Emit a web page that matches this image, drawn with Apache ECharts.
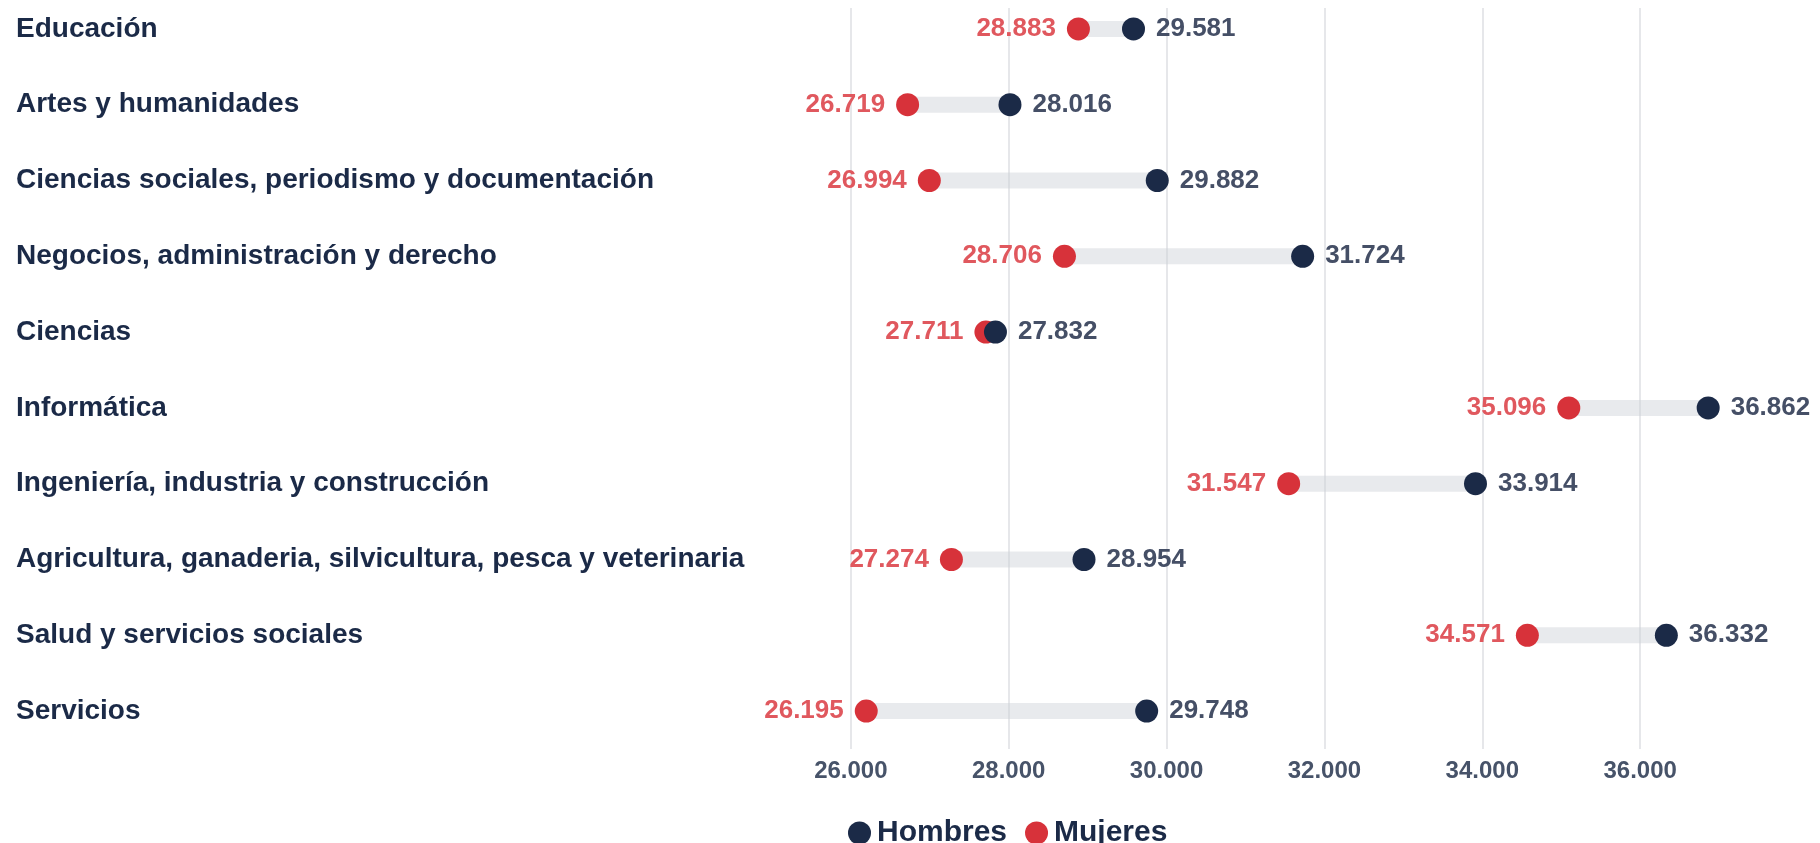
<!DOCTYPE html>
<html lang="es">
<head>
<meta charset="UTF-8">
<title>Salarios por rama</title>
<script src="https://cdn.jsdelivr.net/npm/echarts@6.0.0/dist/echarts.min.js"></script>
<style>
  html, body { margin: 0; padding: 0; background: #fff; overflow: hidden; }
  /* canvas is a bit taller than the page so the first row can sit close to the top edge */
  #main { width: 1820px; height: 863px; margin-top: -20px; }
</style>
</head>
<body>
<div id="main"></div>
<script>
// data
const categories = [
  'Educación',
  'Artes y humanidades',
  'Ciencias sociales, periodismo y documentación',
  'Negocios, administración y derecho',
  'Ciencias',
  'Informática',
  'Ingeniería, industria y construcción',
  'Agricultura, ganaderia, silvicultura, pesca y veterinaria',
  'Salud y servicios sociales',
  'Servicios'
];
const hombres = [29581, 28016, 29882, 31724, 27832, 36862, 33914, 28954, 36332, 29748];
const mujeres = [28883, 26719, 26994, 28706, 27711, 35096, 31547, 27274, 34571, 26195];
const xTicks = [26000, 28000, 30000, 32000, 34000, 36000];

const NAVY = '#1b2a47';
const RED = '#d7323a';
const FONT = '"Liberation Sans", Arial, Helvetica, sans-serif';

function fmt(v) {
  return String(v).replace(/\B(?=(\d{3})+(?!\d))/g, '.');
}

// connector bar per row: [row, low, high]
const ranges = categories.map((c, i) => [i, Math.min(hombres[i], mujeres[i]), Math.max(hombres[i], mujeres[i])]);

var myChart = echarts.init(document.getElementById('main'));

var option = {
  animation: false,
  textStyle: { fontFamily: FONT },
  grid: [
    { left: 693, right: 22, top: 11, bottom: 94 },   // marks
    { left: 693, right: 22, top: 28, bottom: 94 }    // gridlines + x labels
  ],
  legend: {
    data: ['Hombres', 'Mujeres'],
    left: 843,
    top: 833,
    icon: 'circle',
    itemWidth: 23,
    itemHeight: 23,
    itemGap: 18,
    textStyle: { fontSize: 30, fontWeight: 'bold', color: NAVY, fontFamily: FONT, padding: [0, 0, 0, 1] }
  },
  xAxis: [
    {
      gridIndex: 0, type: 'value', min: 24000, max: 38000, interval: 2000,
      axisLine: { show: false }, axisTick: { show: false },
      axisLabel: { show: false }, splitLine: { show: false }
    },
    {
      gridIndex: 1, type: 'value', min: 24000, max: 38000, interval: 2000,
      axisLine: { show: false }, axisTick: { show: false },
      axisLabel: {
        showMinLabel: false, showMaxLabel: false, margin: 10,
        fontSize: 24, fontWeight: 'bold', color: '#475369', fontFamily: FONT,
        formatter: v => xTicks.includes(v) ? fmt(v) : ''
      },
      splitLine: {
        show: true, showMinLine: false, showMaxLine: false,
        lineStyle: { color: '#e6e7ea', width: 2 }
      }
    }
  ],
  yAxis: [
    {
      gridIndex: 0, type: 'category', data: categories, inverse: true,
      axisLine: { show: false }, axisTick: { show: false }, splitLine: { show: false },
      axisLabel: {
        align: 'left', margin: 677,
        fontSize: 28, fontWeight: 'bold', color: NAVY, fontFamily: FONT
      }
    },
    {
      gridIndex: 1, type: 'value', show: false
    }
  ],
  series: [
    {
      type: 'custom',
      xAxisIndex: 0, yAxisIndex: 0,
      z: 1,
      silent: true,
      renderItem: function (params, api) {
        const a = api.coord([api.value(1), api.value(0)]);
        const b = api.coord([api.value(2), api.value(0)]);
        const h = 16;
        return {
          type: 'rect',
          shape: { x: a[0], y: a[1] - h / 2, width: b[0] - a[0], height: h },
          style: { fill: 'rgba(205,208,214,0.45)' }
        };
      },
      encode: { x: [1, 2], y: 0 },
      data: ranges
    },
    {
      name: 'Hombres',
      type: 'scatter',
      xAxisIndex: 0, yAxisIndex: 0,
      z: 4,
      symbolSize: 23,
      itemStyle: { color: NAVY, opacity: 1 },
      label: {
        show: true, position: 'right', distance: 11,
        fontSize: 26, fontWeight: 'bold', color: '#454f66', fontFamily: FONT,
        formatter: p => fmt(p.value[0])
      },
      data: hombres.map((v, i) => [v, categories[i]])
    },
    {
      name: 'Mujeres',
      type: 'scatter',
      xAxisIndex: 0, yAxisIndex: 0,
      z: 3,
      symbolSize: 23,
      itemStyle: { color: RED, opacity: 1 },
      label: {
        show: true, position: 'left', distance: 11,
        fontSize: 26, fontWeight: 'bold', color: '#e0585e', fontFamily: FONT,
        formatter: p => fmt(p.value[0])
      },
      data: mujeres.map((v, i) => [v, categories[i]])
    }
  ]
};

myChart.setOption(option);
</script>
</body>
</html>
